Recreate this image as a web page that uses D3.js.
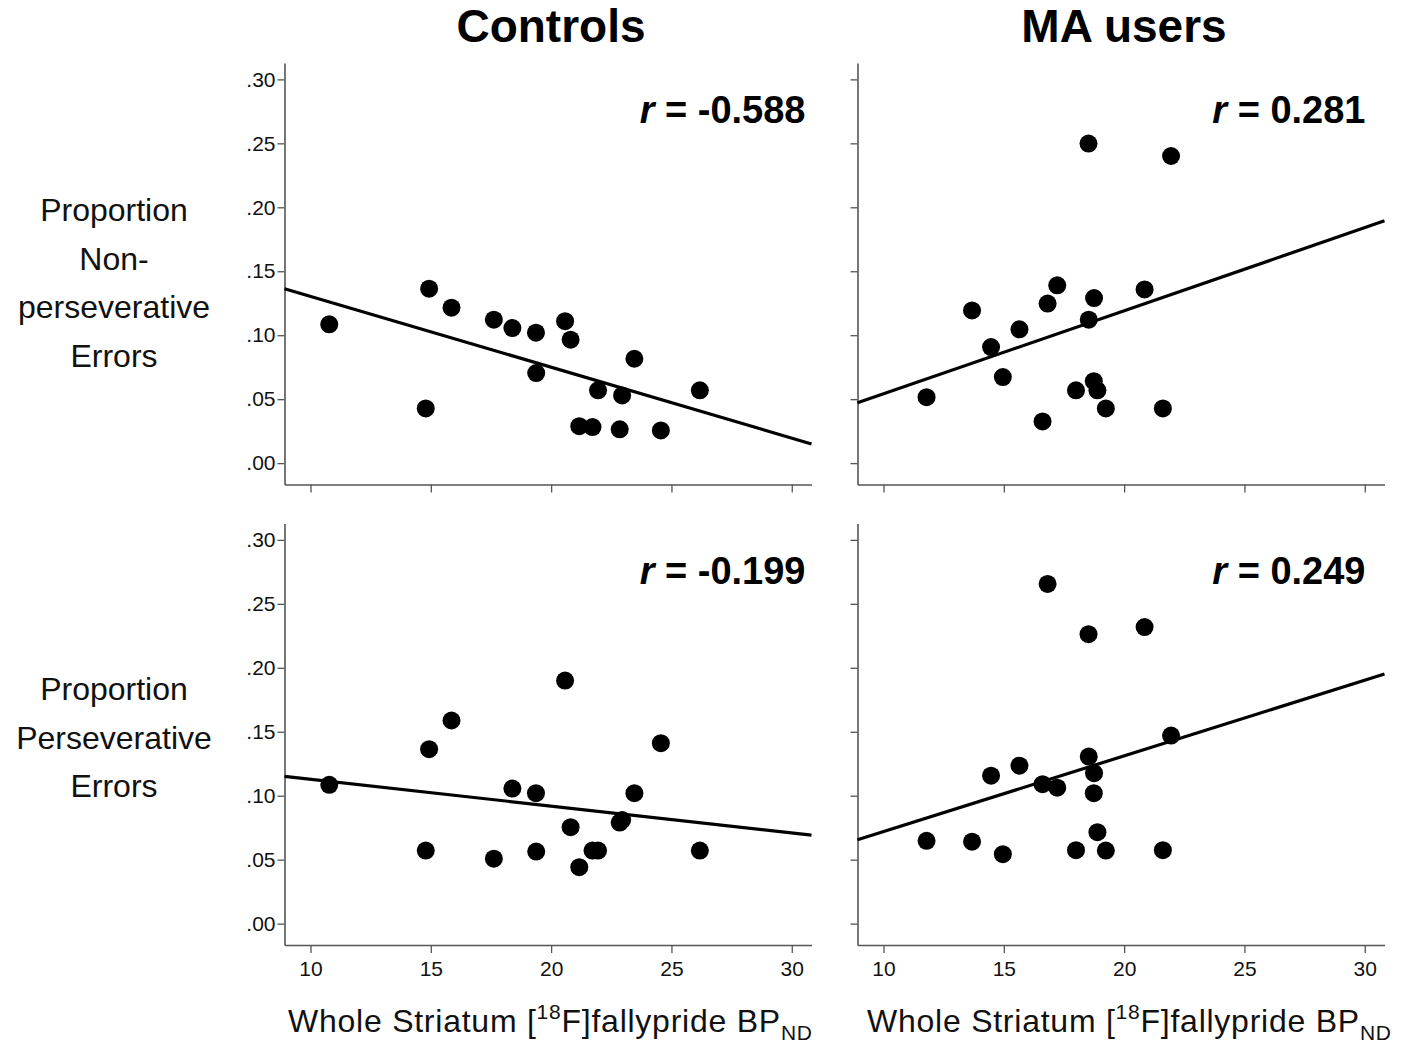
<!DOCTYPE html>
<html>
<head>
<meta charset="utf-8">
<script src="https://cdn.jsdelivr.net/npm/d3@7"></script>
<style>
  body { margin: 0; background: #fff; }
  svg { font-family: Arial, "Liberation Sans", sans-serif; }
</style>
</head>
<body>
<div id="chart"></div>
<script>
// ---- data ----
var groups = ["Controls", "MA users"];
var rowLabels = [["Proportion", "Non-", "perseverative", "Errors"], ["Proportion", "Perseverative", "Errors"]];
var rLabels = [["-0.588", "0.281"], ["-0.199", "0.249"]];
var xTicks = [10, 15, 20, 25, 30];
var yTicks = [0, 0.05, 0.10, 0.15, 0.20, 0.25, 0.30];

// whole striatum BPnd, same subjects in both rows
var controlsBP = [10.78, 14.93, 14.79, 15.86, 17.62, 18.39, 19.37, 19.38, 20.58, 20.81, 23.46, 21.95, 22.95, 26.18, 21.17, 21.72, 22.85, 24.56];
var controlsNonPersev = [0.1085, 0.1364, 0.0428, 0.1215, 0.1121, 0.1056, 0.1020, 0.0704, 0.1110, 0.0965, 0.0816, 0.0569, 0.0529, 0.0569, 0.0289, 0.0282, 0.0264, 0.0256];
var controlsPersev = [0.1085, 0.1364, 0.0571, 0.1588, 0.0508, 0.1056, 0.1020, 0.0563, 0.1900, 0.0754, 0.1020, 0.0571, 0.0810, 0.0571, 0.0441, 0.0571, 0.0790, 0.1411];

var maBP = [18.52, 21.95, 17.22, 18.75, 13.68, 16.82, 18.53, 15.65, 14.47, 14.96, 11.79, 18.00, 18.74, 18.89, 19.24, 16.61, 20.85, 21.61];
var maNonPersev = [0.2498, 0.2401, 0.1390, 0.1290, 0.1194, 0.1247, 0.1121, 0.1046, 0.0907, 0.0673, 0.0516, 0.0569, 0.0641, 0.0569, 0.0428, 0.0326, 0.1358, 0.0428];
var maPersev = [0.2263, 0.1470, 0.1063, 0.1176, 0.0641, 0.2656, 0.1306, 0.1235, 0.1157, 0.0543, 0.0647, 0.0574, 0.1020, 0.0715, 0.0571, 0.1090, 0.2318, 0.0574];

var xDomain = [8.92, 30.82];
var yDomain = [-0.0167, 0.3128];

// ---- layout ----
var W = 1401, H = 1043;
var colLeft = [284.5, 857.5], panelW = 527;
var rowTop = [63, 523.5], panelH = 421.5;
var axisColor = "#555";
var fontFam = "Arial, 'Liberation Sans', sans-serif";

var svg = d3.select("#chart").append("svg").attr("width", W).attr("height", H);

var panels = [
    {row: 0, col: 0, xs: controlsBP, ys: controlsNonPersev},
    {row: 0, col: 1, xs: maBP, ys: maNonPersev},
    {row: 1, col: 0, xs: controlsBP, ys: controlsPersev},
    {row: 1, col: 1, xs: maBP, ys: maPersev}
];

function leastSquares(xs, ys) {
    var mx = d3.mean(xs), my = d3.mean(ys);
    var sxy = 0, sxx = 0;
    xs.forEach(function (x, i) {
        sxy += (x - mx) * (ys[i] - my);
        sxx += (x - mx) * (x - mx);
    });
    var b = sxy / sxx;
    return {slope: b, intercept: my - b * mx};
}

var yFmt = function (d) { return d3.format(".2f")(d).replace(/^0/, ""); };

panels.forEach(function (p) {
    var x = d3.scaleLinear().domain(xDomain).range([0, panelW]);
    var y = d3.scaleLinear().domain(yDomain).range([panelH, 0]);
    var g = svg.append("g")
        .attr("transform", "translate(" + colLeft[p.col] + "," + rowTop[p.row] + ")");

    // y axis (labels only on the left column)
    var yAxis = d3.axisLeft(y).tickValues(yTicks).tickSize(7).tickSizeOuter(0).tickPadding(2)
        .tickFormat(p.col == 0 ? yFmt : "");
    var y_g = g.append("g").call(yAxis).attr("font-family", fontFam);
    y_g.select(".domain").attr("stroke", axisColor).attr("stroke-width", 1.6);
    y_g.selectAll("line").attr("stroke", axisColor).attr("stroke-width", 1.3);
    y_g.selectAll("text").style("font-size", "21px").attr("fill", "#111");

    // x axis (labels only on the bottom row)
    var xAxis = d3.axisBottom(x).tickValues(xTicks).tickSize(8).tickSizeOuter(0).tickPadding(8)
        .tickFormat(p.row == 1 ? d3.format("d") : "");
    var x_g = g.append("g").attr("transform", "translate(0," + panelH + ")").call(xAxis)
        .attr("font-family", fontFam);
    x_g.select(".domain").attr("stroke", axisColor).attr("stroke-width", 1.6);
    x_g.selectAll("line").attr("stroke", axisColor).attr("stroke-width", 1.3);
    x_g.selectAll("text").style("font-size", "21px").attr("fill", "#111");

    // fit line across the whole x range
    var fit = leastSquares(p.xs, p.ys);
    var line = d3.line()
        .x(function (d) { return x(d); })
        .y(function (d) { return y(fit.intercept + fit.slope * d); });
    g.append("path")
        .datum(xDomain)
        .attr("d", line)
        .attr("fill", "none")
        .attr("stroke", "#000")
        .attr("stroke-width", 3.2);

    g.selectAll("circle")
        .data(p.xs.map(function (d, i) { return [d, p.ys[i]]; }))
        .enter().append("circle")
        .attr("cx", function (d) { return x(d[0]); })
        .attr("cy", function (d) { return y(d[1]); })
        .attr("r", 9)
        .attr("fill", "#000");

    // r value, right aligned near the top
    var rt = g.append("text")
        .attr("x", p.col == 0 ? panelW - 6 : panelW - 19)
        .attr("y", 60)
        .attr("text-anchor", "end")
        .style("font-size", "38px")
        .style("font-weight", "bold");
    rt.append("tspan").style("font-style", "italic").text("r");
    rt.append("tspan").text(" = " + rLabels[p.row][p.col]);
});

// column titles
groups.forEach(function (name, i) {
    svg.append("text")
        .attr("x", colLeft[i] + panelW / 2 + 3)
        .attr("y", 42)
        .attr("text-anchor", "middle")
        .style("font-size", "46px")
        .style("font-weight", "bold")
        .text(name);
});

// row labels
rowLabels.forEach(function (lines, r) {
    var t = svg.append("text")
        .attr("text-anchor", "middle")
        .style("font-size", "32px")
        .attr("fill", "#111");
    var firstY = r == 0 ? 221 : 700;
    lines.forEach(function (s, k) {
        t.append("tspan").attr("x", 114).attr("y", firstY + k * 48.5).text(s);
    });
});

// x axis titles
colLeft.forEach(function (left, i) {
    var t = svg.append("text")
        .attr("x", left + panelW / 2 + (i == 0 ? 2 : 8))
        .attr("y", 1032)
        .attr("text-anchor", "middle")
        .attr("textLength", 524)
        .attr("lengthAdjust", "spacing")
        .style("font-size", "32px")
        .attr("fill", "#111");
    t.append("tspan").text("Whole Striatum [");
    t.append("tspan").attr("dy", -13).style("font-size", "21px").text("18");
    t.append("tspan").attr("dy", 13).text("F]fallypride BP");
    t.append("tspan").attr("dy", 8).style("font-size", "21px").text("ND");
});
</script>
</body>
</html>
